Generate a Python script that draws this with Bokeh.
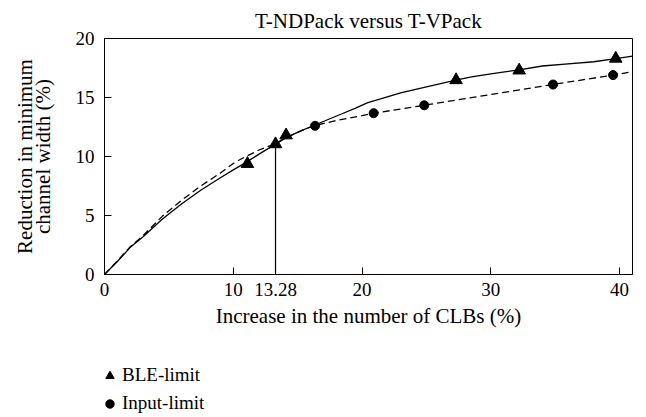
from bokeh.plotting import figure
from bokeh.models import Range1d, FixedTicker, Legend, LegendItem
from bokeh.layouts import column
from bokeh.embed import file_html
from bokeh.resources import INLINE

# ---- data ----
title_text = "T-NDPack versus T-VPack"
x_label = "Increase in the number of CLBs (%)"
y_label = "Reduction in minimum\nchannel width (%)"

x_ticks = [0, 10, 13.28, 20, 30, 40]
x_tick_labels = ["0", "10", "13.28", "20", "30", "40"]
y_ticks = [0, 5, 10, 15, 20]

# BLE-limit curve (solid) and its marked points
ble_curve_x = [0, 1, 2, 3, 4.5, 6, 7.5, 9, 10.1, 11, 12, 13.28, 14.1, 15.25, 16.3, 17.5,
               18.4, 19.5, 20.4, 21.5, 23, 25, 27.2, 28.5, 30, 32.2, 34, 36, 38, 39.7, 41]
ble_curve_y = [0, 1.1, 2.3, 3.2, 4.7, 6.0, 7.16, 8.2, 8.93, 9.5, 10.2, 11.05, 11.6, 12.17, 12.65, 13.2,
               13.6, 14.1, 14.55, 14.9, 15.4, 15.9, 16.45, 16.74, 17.0, 17.35, 17.67, 17.85, 18.03, 18.3, 18.5]
ble_pts_x = [11.1, 13.28, 14.1, 27.3, 32.2, 39.7]
ble_pts_y = [9.38, 11.05, 11.8, 16.48, 17.3, 18.3]

# Input-limit curve (dashed) and its marked points
inp_curve_x = [0, 1, 2, 3, 4.5, 6, 7.5, 9, 10.1, 11.1, 12, 13.28, 14.1, 15.25, 16.3, 17.8,
               20.9, 24.8, 28, 34.8, 39.5, 41]
inp_curve_y = [0, 1.15, 2.35, 3.3, 4.95, 6.3, 7.52, 8.6, 9.49, 10.06, 10.55, 11.1, 11.6, 12.17, 12.62, 13.0,
               13.66, 14.34, 14.9, 16.1, 16.9, 17.2]
inp_pts_x = [16.35, 20.9, 24.83, 34.83, 39.49]
inp_pts_y = [12.6, 13.67, 14.34, 16.1, 16.9]

series_labels = ["BLE-limit", "Input-limit"]

# marked crossing point
cross_x = 13.28
cross_y = 11.05

FONT = "Liberation Serif"

p = figure(width=640, height=340, output_backend="svg", toolbar_location=None,
           x_range=Range1d(0, 41), y_range=Range1d(0, 20),
           min_border_left=104, min_border_right=8, min_border_top=37, min_border_bottom=66,
           title=title_text)

p.title.align = "center"
p.title.text_font = FONT
p.title.text_font_size = "21px"
p.title.text_font_style = "normal"
p.title.text_color = "black"
p.title.standoff = 12

p.xgrid.visible = False
p.ygrid.visible = False
p.outline_line_color = "black"
p.outline_line_alpha = 1
p.outline_line_width = 1
p.background_fill_color = "white"
p.border_fill_color = "white"

for ax in (p.xaxis, p.yaxis):
    ax.axis_line_color = "black"
    ax.axis_line_width = 1
    ax.major_tick_in = 7
    ax.major_tick_out = 0
    ax.major_tick_line_color = "black"
    ax.minor_tick_line_color = None
    ax.major_label_text_font = FONT
    ax.major_label_text_font_size = "19px"
    ax.major_label_text_color = "black"
    ax.axis_label_text_font = FONT
    ax.axis_label_text_font_size = "21px"
    ax.axis_label_text_font_style = "normal"
    ax.axis_label_text_color = "black"

p.xaxis.ticker = FixedTicker(ticks=x_ticks)
p.xaxis.major_label_overrides = {t: l for t, l in zip(x_ticks, x_tick_labels)}
p.xaxis.major_label_standoff = 8
p.xaxis.axis_label = x_label
p.xaxis.axis_label_standoff = 5

p.yaxis.ticker = FixedTicker(ticks=y_ticks)
p.yaxis.major_label_standoff = 10
p.yaxis.axis_label = y_label
p.yaxis.axis_label_standoff = 18
p.yaxis.axis_label_text_line_height = 0.72

p.line(ble_curve_x, ble_curve_y, line_color="black", line_width=1.3)
p.line(inp_curve_x, inp_curve_y, line_color="black", line_width=1.3, line_dash="7 4")
p.segment(x0=[cross_x], y0=[0], x1=[cross_x], y1=[cross_y], line_color="black", line_width=1.2)

p.scatter(ble_pts_x, ble_pts_y, marker="triangle", size=12.5,
          fill_color="black", line_color="black")
p.scatter(inp_pts_x, inp_pts_y, marker="circle", size=9,
          fill_color="black", line_color="black")

# ---- legend strip below the chart (its key renderers fall outside its own range) ----
lf = figure(width=640, height=75, output_backend="svg", toolbar_location=None,
            x_range=Range1d(-2, -1), y_range=Range1d(-2, -1),
            min_border=0, x_axis_location=None, y_axis_location=None)
lf.xgrid.visible = False
lf.ygrid.visible = False
lf.outline_line_color = None
lf.background_fill_color = "white"
lf.border_fill_color = "white"

tri_key = lf.scatter(ble_pts_x, ble_pts_y, marker="triangle", size=9,
                     fill_color="black", line_color="black")
cir_key = lf.scatter(inp_pts_x, inp_pts_y, marker="circle", size=8,
                     fill_color="black", line_color="black")

legend = Legend(items=[LegendItem(label=series_labels[0], renderers=[tri_key]),
                       LegendItem(label=series_labels[1], renderers=[cir_key])],
                location=(-5, 1), orientation="vertical",
                border_line_color=None, background_fill_alpha=0,
                padding=0, margin=0, spacing=6,
                glyph_width=21, glyph_height=21, label_height=22,
                label_standoff=2,
                label_text_font=FONT, label_text_font_size="19px", label_text_color="black")
lf.add_layout(legend)

layout = column(p, lf, spacing=0)
open("out.html", "w").write(file_html(layout, INLINE))
